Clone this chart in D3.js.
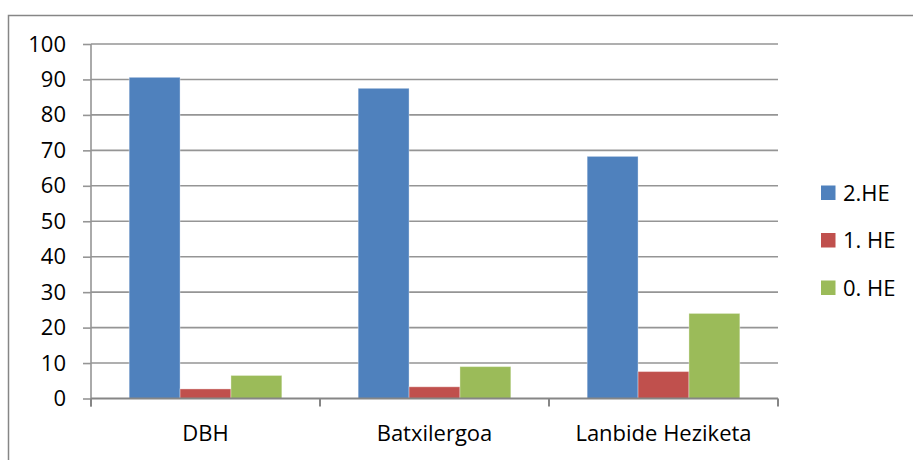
<!DOCTYPE html>
<html>
<head>
<meta charset="utf-8">
<script src="https://cdn.jsdelivr.net/npm/d3@7"></script>
<style>
  html, body { margin: 0; padding: 0; background: #fff; }
  svg { display: block; }
  text { font-family: "Open Sans", "Noto Sans", "Liberation Sans", sans-serif; fill: #000; }
</style>
</head>
<body>
<svg id="chart" width="913" height="460"></svg>
<script>
// Categories, series and values
const categories = ["DBH", "Batxilergoa", "Lanbide Heziketa"];
const seriesNames = ["2.HE", "1. HE", "0. HE"];
const seriesColors = ["#4f81bd", "#c0504d", "#9bbb59"];
const valuesHE2 = [90.6, 87.5, 68.3];
const valuesHE1 = [2.7, 3.3, 7.6];
const valuesHE0 = [6.5, 9.0, 24.0];
const yTicks = [0, 10, 20, 30, 40, 50, 60, 70, 80, 90, 100];

const seriesValues = [valuesHE2, valuesHE1, valuesHE0];

const svg = d3.select("#chart");
const plot = { left: 91, right: 778, top: 44, bottom: 398.5 };
const axisColor = "#868686";
const gridColor = "#959595";
const fontFamily = '"Open Sans", "Noto Sans", sans-serif';
const fontSize = 22;

// Outer chart frame (top and left edges visible)
svg.append("rect")
  .attr("x", 8.5).attr("y", 15.5)
  .attr("width", 920).attr("height", 460)
  .attr("fill", "none").attr("stroke", axisColor).attr("stroke-width", 1.5);

const x0 = d3.scaleBand().domain(categories).range([plot.left, plot.right])
  .paddingInner(0).paddingOuter(0);
const y = d3.scaleLinear().domain([0, 100]).range([plot.bottom, plot.top]);

// Bars sit in the middle of each category with 150% gap width
const bw = x0.bandwidth() / 4.5;
const x1 = d3.scaleBand().domain(d3.range(seriesNames.length))
  .range([0, bw * 3]).padding(0);

// Horizontal gridlines
svg.append("g")
  .selectAll("line")
  .data(yTicks.filter(t => t > 0))
  .join("line")
  .attr("x1", plot.left).attr("x2", plot.right)
  .attr("y1", d => y(d)).attr("y2", d => y(d))
  .attr("stroke", gridColor).attr("stroke-width", 1.6);

// Y axis with left tick marks
const yAxis = d3.axisLeft(y).tickValues(yTicks).tickSize(8).tickPadding(17).tickFormat(d3.format("d"));
const gy = svg.append("g").attr("transform", `translate(${plot.left},0)`).call(yAxis);
gy.select(".domain").remove();
gy.selectAll(".tick line").attr("stroke", gridColor).attr("stroke-width", 1.6);
gy.selectAll(".tick text").attr("font-size", fontSize).attr("font-family", fontFamily).attr("fill", "#000");
gy.append("line").attr("x1", 0).attr("x2", 0)
  .attr("y1", plot.top).attr("y2", plot.bottom + 8)
  .attr("stroke", gridColor).attr("stroke-width", 1.6);

// Bars
const groups = svg.append("g")
  .selectAll("g")
  .data(categories)
  .join("g")
  .attr("transform", c => `translate(${x0(c) + bw * 0.75},0)`);

groups.selectAll("rect")
  .data((c, ci) => seriesValues.map((vals, si) => ({ si, v: vals[ci] })))
  .join("rect")
  .attr("x", d => x1(d.si))
  .attr("y", d => y(d.v))
  .attr("width", x1.bandwidth())
  .attr("height", d => y(0) - y(d.v))
  .attr("fill", d => seriesColors[d.si])
  .attr("stroke", "rgba(255,255,255,0.35)")
  .attr("stroke-width", 1);

// X axis with ticks between categories
const boundaries = [plot.left].concat(categories.map(c => x0(c) + x0.bandwidth()));
const gx = svg.append("g");
gx.append("line")
  .attr("x1", plot.left).attr("x2", plot.right)
  .attr("y1", plot.bottom).attr("y2", plot.bottom)
  .attr("stroke", axisColor).attr("stroke-width", 2);
gx.selectAll("line.tick")
  .data(boundaries)
  .join("line").attr("class", "tick")
  .attr("x1", d => d).attr("x2", d => d)
  .attr("y1", plot.bottom).attr("y2", plot.bottom + 8)
  .attr("stroke", axisColor).attr("stroke-width", 2);
gx.selectAll("text")
  .data(categories)
  .join("text")
  .attr("x", c => x0(c) + x0.bandwidth() / 2)
  .attr("y", 441)
  .attr("text-anchor", "middle")
  .attr("font-size", fontSize)
  .attr("font-family", fontFamily)
  .text(c => c);

// Legend
const legend = svg.append("g")
  .selectAll("g")
  .data(seriesNames)
  .join("g")
  .attr("transform", (d, i) => `translate(821,${193 + i * 47.5})`);
legend.append("rect")
  .attr("x", 0).attr("y", -7.5).attr("width", 14.5).attr("height", 14.5)
  .attr("fill", (d, i) => seriesColors[i]);
legend.append("text")
  .attr("x", 22).attr("y", 0).attr("dy", "0.36em")
  .attr("font-size", fontSize)
  .attr("font-family", fontFamily)
  .text(d => d);
</script>
</body>
</html>
